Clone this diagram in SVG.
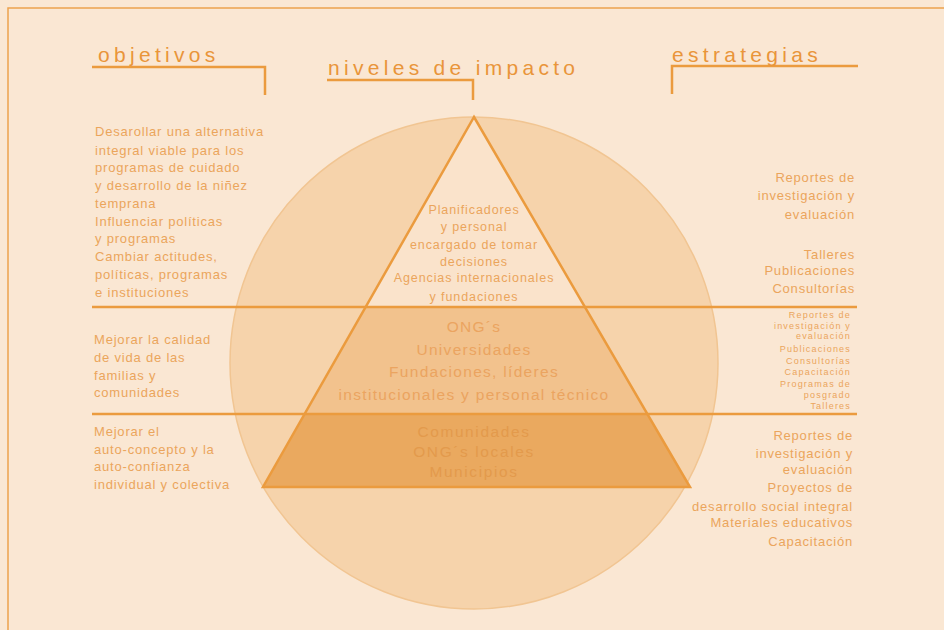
<svg xmlns="http://www.w3.org/2000/svg" width="944" height="630" viewBox="0 0 944 630">
  <style>
    .hdr { font-family: "Liberation Sans", Arial, sans-serif; font-size: 21px; fill: #e9953a; letter-spacing: 4.3px; }
    .txt { font-family: "Liberation Sans", Arial, sans-serif; font-size: 13px; fill: #eba55c; letter-spacing: 0.8px; }
    .sm { font-family: "Liberation Sans", Arial, sans-serif; font-size: 9px; fill: #eba55c; letter-spacing: 1.2px; }
    .lvl { font-family: "Liberation Sans", Arial, sans-serif; font-size: 12.5px; fill: #eba55c; text-anchor: middle; letter-spacing: 0.9px; }
    .lvl2 { font-family: "Liberation Sans", Arial, sans-serif; font-size: 15.5px; fill: #eba460; text-anchor: middle; letter-spacing: 1.3px; }
    .lvl3 { font-family: "Liberation Sans", Arial, sans-serif; font-size: 15.5px; fill: #e39a4c; text-anchor: middle; letter-spacing: 1.6px; }
    .rt { text-anchor: end; }
    .ln { stroke: #eb9b3e; stroke-width: 2.5; fill: none; }
  </style>

  <!-- page background and frame -->
  <rect x="0" y="0" width="944" height="630" fill="#fae7d3"/>
  <path d="M8 630 V8 H944" stroke="#eda24e" stroke-width="1.5" fill="none"/>

  <!-- impact field -->
  <g id="circle">
    <ellipse cx="474" cy="363" rx="244" ry="246" fill="#f6d3ab" stroke="#f1c592" stroke-width="1.5"/>
  </g>

  <!-- pyramid levels -->
  <g id="level-top">
    <polygon points="474,117 365.6,307 584.9,307" fill="#fae3cb"/>
    <text class="lvl" x="474" y="214">Planificadores</text>
    <text class="lvl" x="474" y="231">y personal</text>
    <text class="lvl" x="474" y="249">encargado de tomar</text>
    <text class="lvl" x="474" y="266">decisiones</text>
    <text class="lvl" x="474" y="282">Agencias internacionales</text>
    <text class="lvl" x="474" y="301">y fundaciones</text>
  </g>
  <g id="level-middle">
    <polygon points="365.6,307 584.9,307 647.4,414 304.6,414" fill="#f2c28d"/>
    <text class="lvl2" x="474" y="332">ONG´s</text>
    <text class="lvl2" x="474" y="355">Universidades</text>
    <text class="lvl2" x="474" y="377">Fundaciones, líderes</text>
    <text class="lvl2" x="474" y="400">institucionales y personal técnico</text>
  </g>
  <g id="level-bottom">
    <polygon points="304.6,414 647.4,414 690,487 263,487" fill="#eaa95f"/>
    <text class="lvl3" x="474" y="437">Comunidades</text>
    <text class="lvl3" x="474" y="457">ONG´s locales</text>
    <text class="lvl3" x="474" y="477">Municipios</text>
  </g>

  <!-- pyramid outline, level dividers and header brackets -->
  <g id="connectors">
    <polygon class="ln" points="474,117 690,487 263,487"/>
    <line class="ln" x1="92" y1="307" x2="857" y2="307"/>
    <line class="ln" x1="92" y1="414" x2="857" y2="414"/>
    <path class="ln" d="M92 67 H265 V95"/>
    <path class="ln" d="M327 80 H473 V100"/>
    <path class="ln" d="M858 66 H672 V94"/>
  </g>

  <!-- column headers -->
  <g id="header-objetivos">
    <text class="hdr" x="98" y="62">objetivos</text>
  </g>
  <g id="header-niveles">
    <text class="hdr" x="328" y="75">niveles de impacto</text>
  </g>
  <g id="header-estrategias">
    <text class="hdr" x="672" y="62">estrategias</text>
  </g>

  <!-- objectives per level -->
  <g id="obj-top">
    <text class="txt" x="95" y="136">Desarollar una alternativa</text>
    <text class="txt" x="95" y="155">integral viable para los</text>
    <text class="txt" x="95" y="172">programas de cuidado</text>
    <text class="txt" x="95" y="190">y desarrollo de la niñez</text>
    <text class="txt" x="95" y="208">temprana</text>
    <text class="txt" x="95" y="226">Influenciar políticas</text>
    <text class="txt" x="95" y="243">y programas</text>
    <text class="txt" x="95" y="261">Cambiar actitudes,</text>
    <text class="txt" x="95" y="279">políticas, programas</text>
    <text class="txt" x="95" y="297">e instituciones</text>
  </g>
  <g id="obj-middle">
    <text class="txt" x="94" y="344">Mejorar la calidad</text>
    <text class="txt" x="94" y="362">de vida de las</text>
    <text class="txt" x="94" y="380">familias y</text>
    <text class="txt" x="94" y="397">comunidades</text>
  </g>
  <g id="obj-bottom">
    <text class="txt" x="94" y="436">Mejorar el</text>
    <text class="txt" x="94" y="454">auto-concepto y la</text>
    <text class="txt" x="94" y="471">auto-confianza</text>
    <text class="txt" x="94" y="489">individual y colectiva</text>
  </g>

  <!-- strategies per level -->
  <g id="str-top">
    <text class="txt rt" x="855" y="182">Reportes de</text>
    <text class="txt rt" x="855" y="200">investigación y</text>
    <text class="txt rt" x="855" y="219">evaluación</text>
    <text class="txt rt" x="855" y="259">Talleres</text>
    <text class="txt rt" x="855" y="275">Publicaciones</text>
    <text class="txt rt" x="855" y="293">Consultorías</text>
  </g>
  <g id="str-middle">
    <text class="sm rt" x="851" y="318">Reportes de</text>
    <text class="sm rt" x="851" y="329">investigación y</text>
    <text class="sm rt" x="851" y="339">evaluación</text>
    <text class="sm rt" x="851" y="352">Publicaciones</text>
    <text class="sm rt" x="851" y="364">Consultorías</text>
    <text class="sm rt" x="851" y="375">Capacitación</text>
    <text class="sm rt" x="851" y="387">Programas de</text>
    <text class="sm rt" x="851" y="398">posgrado</text>
    <text class="sm rt" x="851" y="409">Talleres</text>
  </g>
  <g id="str-bottom">
    <text class="txt rt" x="853" y="440">Reportes de</text>
    <text class="txt rt" x="853" y="458">investigación y</text>
    <text class="txt rt" x="853" y="474">evaluación</text>
    <text class="txt rt" x="853" y="492">Proyectos de</text>
    <text class="txt rt" x="853" y="511">desarrollo social integral</text>
    <text class="txt rt" x="853" y="527">Materiales educativos</text>
    <text class="txt rt" x="853" y="546">Capacitación</text>
  </g>
</svg>
